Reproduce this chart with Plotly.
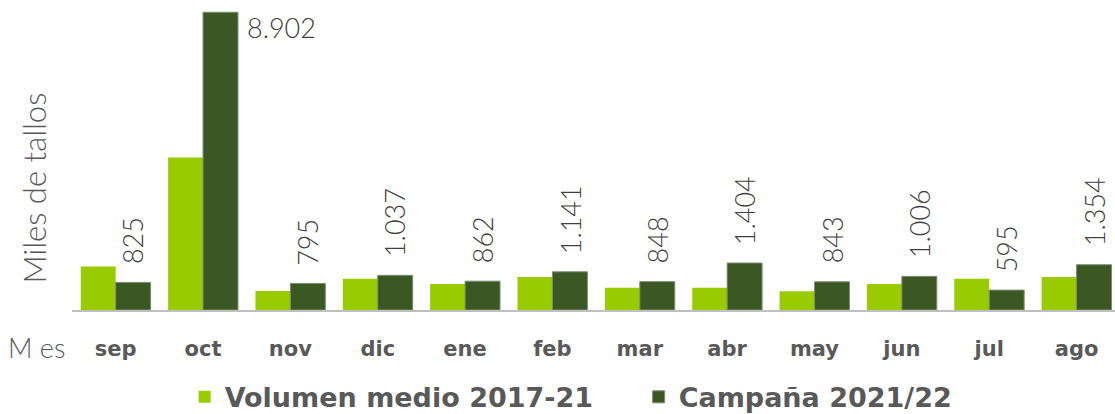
import plotly.graph_objects as go

meses = ["sep", "oct", "nov", "dic", "ene", "feb", "mar", "abr", "may", "jun", "jul", "ago"]
volumen_medio = [1297, 4560, 569, 937, 778, 988, 668, 668, 560, 778, 937, 988]
campana = [825, 8902, 795, 1037, 862, 1141, 848, 1404, 843, 1006, 595, 1354]

serie1 = "Volumen medio 2017-21"
serie2 = "Campaña 2021/22"

LIGHT = "#99CC00"
DARK = "#3A5724"
TXT = "#595959"
THIN = "Lato"
BOLD = "DejaVu Sans"


def fmt(v):
    return f"{v:,}".replace(",", ".")


fig = go.Figure()
fig.add_bar(x=meses, y=volumen_medio, name=serie1, marker=dict(color=LIGHT, line=dict(width=0)))
fig.add_bar(x=meses, y=campana, name=serie2,
            marker=dict(color=DARK, line=dict(width=1, color="#7d8c72")))

annotations = []
for m, v in zip(meses, campana):
    if v > 5000:
        annotations.append(dict(x=m, y=v, xref="x", yref="y", text=fmt(v), showarrow=False,
                                xanchor="left", yanchor="middle", xshift=42, yshift=-15,
                                font=dict(family=THIN, size=27, color="#404040", weight=300)))
    else:
        annotations.append(dict(x=m, y=v, xref="x", yref="y", text=fmt(v), showarrow=False,
                                textangle=-90, xanchor="center", yanchor="bottom",
                                xshift=17.5, yshift=16,
                                font=dict(family=THIN, size=27, color="#404040", weight=300)))

annotations.append(dict(x=-0.063, y=-0.125, xref="paper", yref="paper", text="M es",
                        showarrow=False, xanchor="left", yanchor="middle",
                        font=dict(family=THIN, size=27, color=TXT, weight=300)))
annotations.append(dict(x=-0.036, y=0.405, xref="paper", yref="paper", text="Miles de tallos",
                        showarrow=False, textangle=-90, xanchor="center", yanchor="middle",
                        font=dict(family=THIN, size=31, color=TXT, weight=300)))

fig.update_layout(
    width=1115, height=414,
    margin=dict(l=72, r=0, t=9, b=104, autoexpand=False),
    paper_bgcolor="white", plot_bgcolor="white",
    barmode="group", bargap=0.2, bargroupgap=0,
    font=dict(family=BOLD, color=TXT),
    showlegend=True,
    legend=dict(orientation="h", x=0.108, xanchor="left", y=-0.29, yanchor="middle",
                font=dict(family=BOLD, size=27, color=TXT, weight="bold"),
                itemwidth=30, entrywidth=409, entrywidthmode="pixels",
                traceorder="normal"),
    annotations=annotations,
)
fig.update_xaxes(type="category", range=[-0.5, 11.44], showline=True, linecolor="#BFBFBF",
                 linewidth=2, ticks="", showgrid=False, zeroline=False,
                 tickfont=dict(family=BOLD, size=21, color=TXT, weight="bold"),
                 ticklabelstandoff=19)
fig.update_yaxes(range=[0, 9000], visible=False, showgrid=False, zeroline=False)

fig.write_html("out.html", config={"displayModeBar": False},
               post_script="document.body.style.margin='0';")
